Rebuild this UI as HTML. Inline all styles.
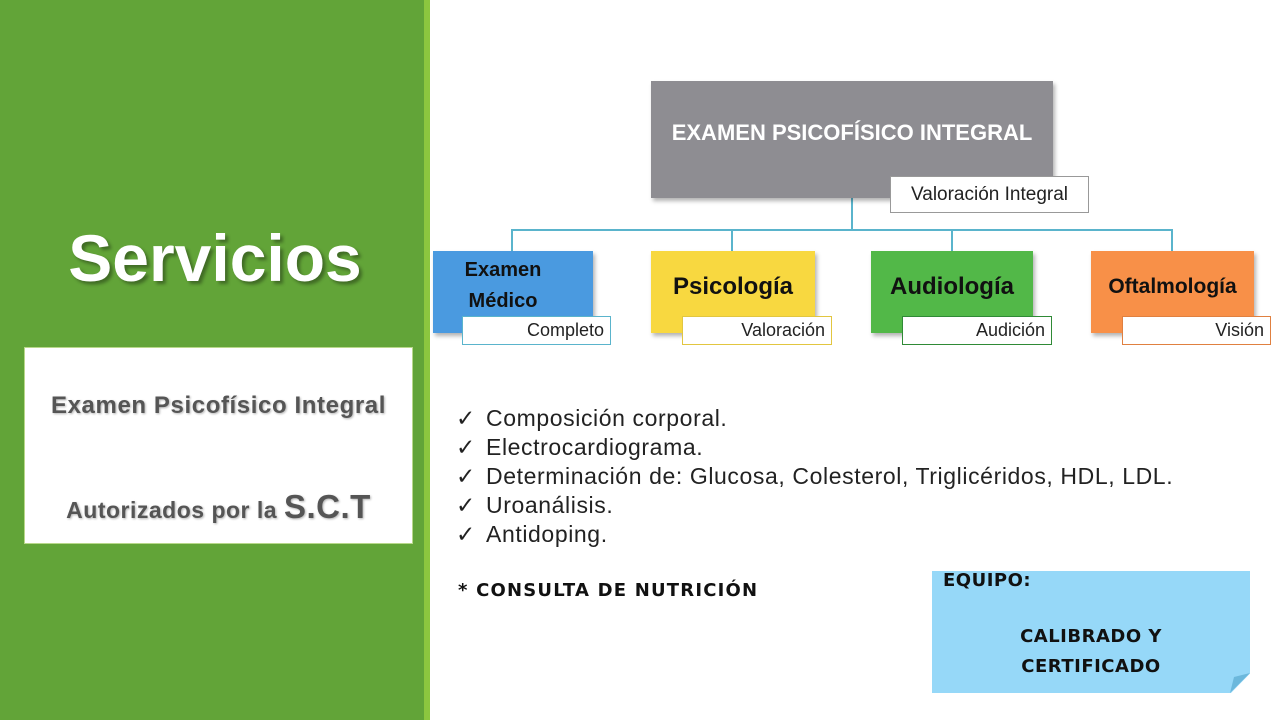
<!DOCTYPE html>
<html><head><meta charset="utf-8"><style>
body{margin:0;width:1280px;height:720px;position:relative;background:#fff;overflow:hidden;font-family:"Liberation Sans",sans-serif}
.a{position:absolute}
.node{position:absolute;box-shadow:2px 3px 4px rgba(0,0,0,.3);display:flex;align-items:center;justify-content:center;font-weight:bold;color:#111;text-align:center}
.lab{position:absolute;background:#fff;height:26px;display:flex;align-items:center;justify-content:flex-end;padding-right:6px;box-sizing:border-box;font-size:18px;color:#222}
.ln{position:absolute;background:#5ab4cc}
.b{font-family:"DejaVu Sans",sans-serif;font-weight:900;letter-spacing:0.5px}
.ck{display:inline-block;width:30px}
</style></head><body>
<div class="a" style="left:0;top:0;width:424px;height:720px;background:#62a438"></div>
<div class="a" style="left:424px;top:0;width:6px;height:720px;background:#8cc63f"></div>
<div class="a" style="left:0;top:220px;width:430px;text-align:center;font-size:66px;font-weight:bold;color:#fff;text-shadow:3px 3px 3px rgba(0,0,0,.35)">Servicios</div>
<div class="a" style="left:24px;top:347px;width:387px;height:195px;background:#fff;border:1px solid #b8d88a"></div>
<div class="a" style="left:24px;top:392px;width:389px;text-align:center;font-size:24px;letter-spacing:0.6px;font-weight:bold;color:#555;text-shadow:1px 1px 2px rgba(0,0,0,.3)">Examen Psicofísico Integral</div>
<div class="a" style="left:24px;top:488px;width:389px;text-align:center;font-size:23px;letter-spacing:0.5px;font-weight:bold;color:#555;text-shadow:1px 1px 2px rgba(0,0,0,.3)">Autorizados por la <span style="font-size:33px">S.C.T</span></div>

<div class="ln" style="left:851px;top:198px;width:2px;height:32px"></div>
<div class="ln" style="left:512px;top:229px;width:660px;height:2px"></div>
<div class="ln" style="left:511px;top:229px;width:2px;height:22px"></div>
<div class="ln" style="left:731px;top:229px;width:2px;height:22px"></div>
<div class="ln" style="left:951px;top:229px;width:2px;height:22px"></div>
<div class="ln" style="left:1171px;top:229px;width:2px;height:22px"></div>

<div class="node" style="left:651px;top:81px;width:402px;height:117px;background:#8e8d92;color:#fff;font-size:22px;padding-bottom:14px;box-sizing:border-box">EXAMEN PSICOFÍSICO INTEGRAL</div>
<div class="lab" style="left:890px;top:176px;width:199px;height:37px;border:1px solid #999;font-size:19px;justify-content:center;padding:0">Valoración Integral</div>

<div class="node" style="left:433px;top:251px;width:160px;height:82px;background:#4a9ae0;font-size:20px;line-height:31px;align-items:flex-start;padding-top:4px;padding-right:20px;box-sizing:border-box">Examen<br>Médico</div>
<div class="lab" style="left:462px;top:316px;width:149px;height:29px;border:1px solid #5ab4cc">Completo</div>
<div class="node" style="left:651px;top:251px;width:164px;height:82px;background:#f8d840;font-size:24px;padding-bottom:10px;box-sizing:border-box">Psicología</div>
<div class="lab" style="left:682px;top:316px;width:150px;height:29px;border:1px solid #e2c640">Valoración</div>
<div class="node" style="left:871px;top:251px;width:162px;height:82px;background:#52b848;font-size:24px;padding-bottom:10px;box-sizing:border-box">Audiología</div>
<div class="lab" style="left:902px;top:316px;width:150px;height:29px;border:1px solid #2f8a36">Audición</div>
<div class="node" style="left:1091px;top:251px;width:163px;height:82px;background:#f89048;font-size:21px;padding-bottom:10px;box-sizing:border-box">Oftalmología</div>
<div class="lab" style="left:1122px;top:316px;width:149px;height:29px;border:1px solid #e08040">Visión</div>

<div class="a" style="left:456px;top:404px;font-size:23px;letter-spacing:0.6px;line-height:29px;color:#222">
<span class="ck">✓</span>Composición corporal.<br><span class="ck">✓</span>Electrocardiograma.<br><span class="ck">✓</span>Determinación de: Glucosa, Colesterol, Triglicéridos, HDL, LDL.<br><span class="ck">✓</span>Uroanálisis.<br><span class="ck">✓</span>Antidoping.</div>
<div class="a b" style="left:458px;top:580px;font-size:18px;color:#111;letter-spacing:1.2px">* CONSULTA DE NUTRICIÓN</div>

<div class="a" style="left:932px;top:571px;width:318px;height:122px;background:#96d8f8;clip-path:polygon(0 0,100% 0,100% 84%,94% 100%,0 100%)"></div>
<div class="a" style="left:1230px;top:673px;width:20px;height:20px;background:#6cb8dc;clip-path:polygon(100% 0,0 100%,20% 20%)"></div>
<div class="a b" style="left:943px;top:570px;font-size:18px;color:#111">EQUIPO:</div>
<div class="a b" style="left:932px;top:622px;width:318px;text-align:center;font-size:18px;line-height:30px;color:#111">CALIBRADO Y<br>CERTIFICADO</div>
</body></html>
